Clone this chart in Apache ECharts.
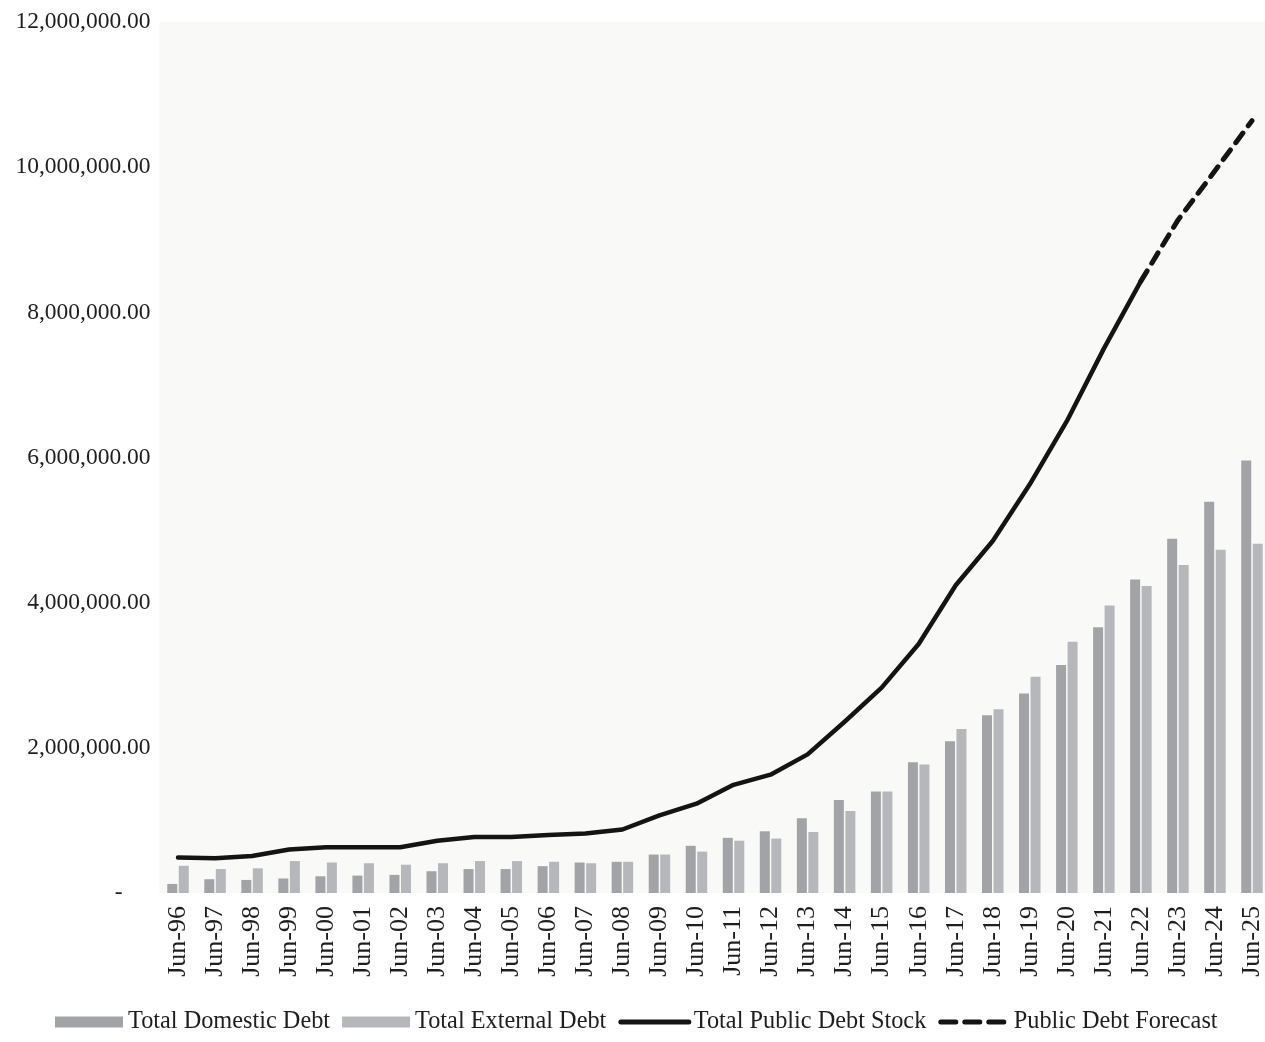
<!DOCTYPE html>
<html>
<head>
<meta charset="utf-8">
<title>Public Debt Stock</title>
<script src="https://cdn.jsdelivr.net/npm/echarts@6/dist/echarts.min.js"></script>
<style>
  html, body { margin: 0; padding: 0; background: #ffffff; overflow: hidden; }
  #chart { width: 1272px; height: 1042px; }
</style>
</head>
<body>
<div id="chart"></div>
<script>
// Financial years (June), values in millions
const categories = [
  'Jun-96', 'Jun-97', 'Jun-98', 'Jun-99', 'Jun-00', 'Jun-01', 'Jun-02', 'Jun-03',
  'Jun-04', 'Jun-05', 'Jun-06', 'Jun-07', 'Jun-08', 'Jun-09', 'Jun-10', 'Jun-11',
  'Jun-12', 'Jun-13', 'Jun-14', 'Jun-15', 'Jun-16', 'Jun-17', 'Jun-18', 'Jun-19',
  'Jun-20', 'Jun-21', 'Jun-22', 'Jun-23', 'Jun-24', 'Jun-25'
];

const domesticDebt = [
  125000, 190000, 180000, 200000, 230000, 240000, 250000, 300000,
  330000, 330000, 370000, 420000, 430000, 530000, 650000, 760000,
  850000, 1030000, 1280000, 1400000, 1800000, 2090000, 2450000, 2750000,
  3140000, 3660000, 4320000, 4880000, 5390000, 5960000
];

const externalDebt = [
  375000, 330000, 340000, 440000, 420000, 410000, 390000, 410000,
  440000, 440000, 430000, 410000, 430000, 530000, 570000, 720000,
  750000, 840000, 1130000, 1400000, 1770000, 2260000, 2530000, 2980000,
  3460000, 3960000, 4230000, 4520000, 4730000, 4810000
];

const totalDebtStock = [
  490000, 480000, 510000, 600000, 630000, 630000, 630000, 720000,
  770000, 770000, 800000, 820000, 875000, 1070000, 1230000, 1490000,
  1630000, 1910000, 2360000, 2830000, 3430000, 4240000, 4850000, 5630000,
  6500000, 7500000, 8430000, null, null, null
];

const debtForecast = [
  null, null, null, null, null, null, null, null,
  null, null, null, null, null, null, null, null,
  null, null, null, null, null, null, null, null,
  null, null, 8430000, 9270000, 9950000, 10640000
];

const yTicks = { min: 0, max: 12000000, interval: 2000000 };

const serif = '"Liberation Serif", "DejaVu Serif", serif';
const ink = '#1e1e1e';
const lineInk = '#141414';

const chart = echarts.init(document.getElementById('chart'), null, { renderer: 'canvas' });

chart.setOption({
  animation: false,
  backgroundColor: '#ffffff',
  grid: {
    left: 159.5,
    right: 1.5,
    top: 22,
    bottom: 149,
    show: true,
    backgroundColor: '#f9f9f8',
    borderWidth: 0
  },
  legend: {
    left: 50,
    top: 1005,
    itemWidth: 68,
    itemHeight: 11,
    itemGap: 12,
    textStyle: { fontFamily: serif, fontSize: 24.3, color: ink },
    data: [
      { name: 'Total Domestic Debt', icon: 'rect' },
      { name: 'Total External Debt', icon: 'rect' },
      {
        name: 'Total Public Debt Stock',
        itemStyle: { opacity: 0 },
        lineStyle: { width: 5, color: lineInk }
      },
      {
        name: 'Public Debt Forecast',
        itemStyle: { opacity: 0 },
        lineStyle: { width: 5, color: lineInk, type: [15, 9] }
      }
    ]
  },
  xAxis: {
    type: 'category',
    data: categories,
    boundaryGap: true,
    axisLine: { show: false },
    axisTick: { show: false },
    splitLine: { show: false },
    axisLabel: {
      rotate: 90,
      interval: 0,
      margin: 13,
      fontFamily: serif,
      fontSize: 26,
      color: ink
    }
  },
  yAxis: {
    type: 'value',
    min: yTicks.min,
    max: yTicks.max,
    interval: yTicks.interval,
    axisLine: { show: false },
    axisTick: { show: false },
    splitLine: { show: false },
    axisLabel: {
      margin: 9,
      fontFamily: serif,
      fontSize: 23.5,
      color: ink,
      formatter: function (v) {
        if (v === 0) return '{z|-}';
        return v.toLocaleString('en-US', { minimumFractionDigits: 2, maximumFractionDigits: 2 });
      },
      rich: {
        z: { fontFamily: serif, fontSize: 23.5, color: ink, padding: [0, 28, 0, 0] }
      }
    }
  },
  series: [
    {
      name: 'Total Domestic Debt',
      type: 'bar',
      data: domesticDebt,
      barWidth: 10,
      barGap: '15%',
      itemStyle: { color: '#a2a3a6' },
      z: 2
    },
    {
      name: 'Total External Debt',
      type: 'bar',
      data: externalDebt,
      barWidth: 10,
      barGap: '15%',
      itemStyle: { color: '#b6b7ba' },
      z: 2
    },
    {
      name: 'Total Public Debt Stock',
      type: 'line',
      data: totalDebtStock,
      symbol: 'none',
      smooth: false,
      connectNulls: false,
      lineStyle: { color: lineInk, width: 4.5, cap: 'round', join: 'round' },
      itemStyle: { color: lineInk },
      z: 5
    },
    {
      name: 'Public Debt Forecast',
      type: 'line',
      data: debtForecast,
      symbol: 'none',
      smooth: false,
      lineStyle: { color: lineInk, width: 5, type: [12, 9], cap: 'round' },
      itemStyle: { color: lineInk },
      z: 5
    }
  ]
});
</script>
</body>
</html>
